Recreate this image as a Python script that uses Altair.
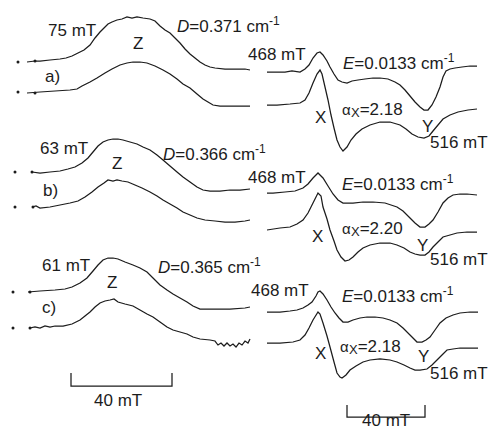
import altair as alt
import pandas as pd

# ---- traces (x, y, figure units) ----
za1_x = [27,35,40,50,60,66,72,78,84,90,95,100,104,108,112,117,122,127,132,137,143,150,155,160,165,170,175,180,185,190,195,200,205,210,215,225,235,245,250]
za1_y = [62,61,61,60,59,58,56,53,50,45,38,32,28,24,22,20,19,17,18,17,18,19,21,26,30,33,38,43,49,54,58,62,65,67,68,69,69,69,70]
za2_x = [27,40,55,70,77,82,90,97,105,112,120,127,133,140,147,155,163,170,177,183,190,197,203,208,213,220,235,250]
za2_y = [93,92,91,90,89,86,82,78,73,69,65,63,62,62,63,66,70,74,79,84,88,94,99,102,105,106,106,106]
zb1_x = [32,40,50,60,68,75,82,88,93,98,103,108,113,118,123,130,137,143,150,157,163,170,177,183,190,197,203,210,220,230,240,250]
zb1_y = [172,173,172,171,169,167,163,158,152,146,142,140,139,139,140,142,144,147,150,155,160,166,172,177,182,187,190,191,191,190,190,189]
zb2_x = [32,36,40,50,60,70,78,85,92,98,104,108,113,117,122,128,135,142,150,157,163,170,177,183,190,197,205,215,225,235,245,250]
zb2_y = [207,206,208,207,205,203,201,197,192,187,183,180,181,180,181,182,185,188,192,196,200,204,208,212,215,218,220,221,222,222,221,220]
zc1_x = [28,40,55,65,72,80,87,93,98,103,108,113,118,125,133,140,147,153,160,167,173,180,187,193,200,215,230,245,250]
zc1_y = [292,291,290,289,287,283,278,271,265,260,258,258,259,262,265,268,272,278,285,290,294,298,302,306,309,309,309,308,307]
zc2_x = [30,35,40,45,50,55,63,72,80,85,90,95,100,105,110,114,118,125,133,140,147,153,160,167,173,180,187,193,200,210,215,218,221,224,227,230,233,236,239,242,245,248,250]
zc2_y = [328,327,328,326,327,326,326,324,320,316,312,307,303,301,300,299,302,304,306,310,314,317,322,327,330,332,334,337,339,340,341,345,343,346,343,346,344,347,343,345,341,343,339]

ea1_x = [267,273,285,292,300,305,309,313,317,320,323,327,330,334,338,342,347,352,358,365,373,380,388,395,400,405,410,415,420,424,428,432,436,440,443,446,450,455,462,470,477]
ea1_y = [72,72,72,71,72,69,65,58,53,52,55,61,67,74,80,82,83,81,80,79,78,78,79,82,85,90,96,102,107,110,110,105,97,87,77,71,69,68,67,66,66]
ea2_x = [267,277,290,300,305,309,313,317,320,322,325,328,331,334,337,340,343,347,351,356,362,370,380,390,400,406,412,418,424,429,433,438,443,450,458,468,477]
ea2_y = [105,105,104,103,100,93,83,74,70,74,87,100,115,128,140,147,151,147,140,134,129,125,122,122,125,129,134,137,138,136,131,125,119,115,112,110,109]
eb1_x = [267,273,285,295,303,308,313,318,323,328,333,338,343,353,363,373,385,397,403,410,415,420,425,429,433,438,443,448,453,460,467,477]
eb1_y = [193,193,192,191,188,184,178,173,178,186,194,200,203,203,202,202,203,207,211,218,223,227,227,224,220,212,203,198,195,194,194,195]
eb2_x = [267,280,290,297,303,308,313,318,321,323,327,330,334,337,341,345,349,353,358,363,370,380,390,397,404,410,415,420,425,429,433,438,443,450,457,467,477]
eb2_y = [230,228,227,224,220,213,203,193,196,207,219,230,241,250,257,261,260,257,252,248,245,243,243,245,248,252,254,255,255,252,247,242,237,235,233,232,232]
ec1_x = [267,280,290,297,303,308,312,316,318,320,323,327,331,335,339,343,348,353,360,367,375,383,390,397,403,410,417,422,426,430,435,440,446,453,460,470,478]
ec1_y = [312,312,311,310,308,305,302,296,292,291,294,300,307,313,318,322,322,320,318,317,317,318,320,323,328,335,342,342,340,337,330,323,318,315,313,312,312]
ec2_x = [267,280,293,300,305,309,313,318,320,323,327,330,334,337,340,342,346,350,356,363,370,380,390,397,404,410,415,420,427,432,437,442,447,453,460,470,478]
ec2_y = [343,343,342,340,335,328,320,312,314,323,336,347,362,373,377,378,375,370,366,362,360,359,360,362,365,368,370,370,369,365,360,355,350,349,348,348,348]

# scale bars (brackets)
bar1_x = [71, 71, 172, 172]
bar1_y = [373, 386, 386, 373]
bar2_x = [347, 347, 425, 425]
bar2_y = [405, 417, 417, 405]

# start markers
dot_x = [18, 35, 18, 35, 15, 32, 15, 33, 13, 30, 13, 30]
dot_y = [62, 61, 92, 93, 172, 172, 207, 207, 292, 292, 328, 328]

traces = {
    "za1": (za1_x, za1_y), "za2": (za2_x, za2_y),
    "zb1": (zb1_x, zb1_y), "zb2": (zb2_x, zb2_y),
    "zc1": (zc1_x, zc1_y), "zc2": (zc2_x, zc2_y),
    "ea1": (ea1_x, ea1_y), "ea2": (ea2_x, ea2_y),
    "eb1": (eb1_x, eb1_y), "eb2": (eb2_x, eb2_y),
    "ec1": (ec1_x, ec1_y), "ec2": (ec2_x, ec2_y),
    "bar1": (bar1_x, bar1_y), "bar2": (bar2_x, bar2_y),
}
rows = []
for name, (xs, ys) in traces.items():
    for i, (x, y) in enumerate(zip(xs, ys)):
        rows.append({"trace": name, "x": x, "y": y, "o": i})
line_df = pd.DataFrame(rows)
dot_df = pd.DataFrame({"x": dot_x, "y": dot_y})

# ---- labels ----
W = {c: 0.556 for c in "0123456789"}
W.update({" ": 0.278, ".": 0.278, "=": 0.584, "c": 0.5, "m": 0.833, "T": 0.611,
          "D": 0.722, "E": 0.667, "X": 0.667, "Y": 0.667, "Z": 0.611, ")": 0.333,
          "a": 0.556, "b": 0.556, "-": 0.333, "\u03b1": 0.6})
FS = {"n": 17, "i": 17, "sup": 12, "sub": 13, "g": 15}
DY = {"n": 0, "i": 0, "sup": -6, "sub": 3, "g": 0}

label_specs = [
    (48, 31, [("75 mT", "n")]), (45, 77, [("a)", "n")]), (133, 44, [("Z", "n")]),
    (177, 27, [("D", "i"), ("=0.371 cm", "n"), ("-1", "sup")]),
    (40, 149, [("63 mT", "n")]), (43, 191, [("b)", "n")]), (112, 164, [("Z", "n")]),
    (163, 155, [("D", "i"), ("=0.366 cm", "n"), ("-1", "sup")]),
    (42, 266, [("61 mT", "n")]), (42, 308, [("c)", "n")]), (107, 283, [("Z", "n")]),
    (158, 268, [("D", "i"), ("=0.365 cm", "n"), ("-1", "sup")]),
    (248, 55, [("468 mT", "n")]), (343, 64, [("E", "i"), ("=0.0133 cm", "n"), ("-1", "sup")]),
    (342, 110, [("\u03b1", "g"), ("X", "sub"), ("=2.18", "n")]),
    (315, 118, [("X", "n")]), (422, 127, [("Y", "n")]), (430, 143, [("516 mT", "n")]),
    (248, 178, [("468 mT", "n")]), (342, 185, [("E", "i"), ("=0.0133 cm", "n"), ("-1", "sup")]),
    (342, 229, [("\u03b1", "g"), ("X", "sub"), ("=2.20", "n")]),
    (312, 237, [("X", "n")]), (417, 246, [("Y", "n")]), (430, 260, [("516 mT", "n")]),
    (251, 291, [("468 mT", "n")]), (342, 297, [("E", "i"), ("=0.0133 cm", "n"), ("-1", "sup")]),
    (340, 347, [("\u03b1", "g"), ("X", "sub"), ("=2.18", "n")]),
    (315, 354, [("X", "n")]), (418, 357, [("Y", "n")]), (430, 374, [("516 mT", "n")]),
    (94, 401, [("40 mT", "n")]), (362, 421, [("40 mT", "n")]),
]
trows = []
for x0, y0, pieces in label_specs:
    x = x0
    for txt, st in pieces:
        trows.append({"x": x, "y": y0 + DY[st], "text": txt, "st": st})
        x += sum(W.get(ch, 0.55) for ch in txt) * FS[st]
text_df = pd.DataFrame(trows)

FONT = "Liberation Sans"
INK = "#1c1c1c"
xs = alt.Scale(domain=[8, 489])
ys = alt.Scale(domain=[8, 430], reverse=True)
X = alt.X("x:Q", scale=xs, axis=None)
Y = alt.Y("y:Q", scale=ys, axis=None)

lines = alt.Chart(line_df).mark_line(color=INK, strokeWidth=1.25).encode(
    x=X, y=Y, detail="trace:N", order="o:Q")
dots = alt.Chart(dot_df).mark_circle(color=INK, size=9, opacity=1).encode(x=X, y=Y)

def tlayer(st, **kw):
    return alt.Chart(text_df).transform_filter(alt.datum.st == st).mark_text(
        align="left", baseline="middle", font=FONT, fontSize=FS[st], color=INK, **kw
    ).encode(x=X, y=Y, text="text:N")

chart = alt.layer(
    lines, dots,
    tlayer("n"), tlayer("i", fontStyle="italic"), tlayer("sup"), tlayer("sub"), tlayer("g"),
).properties(width=481, height=422, padding=0, autosize="none",
             background="white").configure_view(stroke=None)

chart.save("out.html", embed_options={"renderer": "svg", "actions": False})
